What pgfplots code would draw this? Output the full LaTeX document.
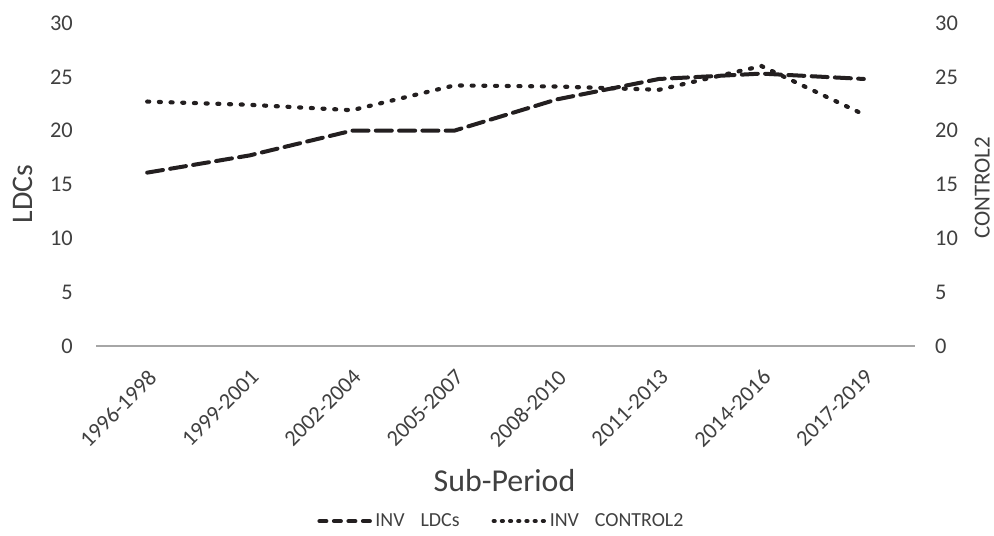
\documentclass[border=0pt]{standalone}
\usepackage{pgfplots}
\pgfplotsset{compat=1.18}
\usepackage{fontspec}
\setmainfont{Carlito}
\definecolor{txt}{HTML}{404040}
\definecolor{ln}{HTML}{231F20}
\definecolor{axc}{HTML}{A6A6A6}
\pgfplotsset{
  ldcleg/.style={legend image code/.code={\draw[##1, dash pattern=on 7bp off 7.5bp] (2bp,0bp) -- (54bp,0bp);}},
  ctlleg/.style={legend image code/.code={\draw[##1, dash pattern=on 1bp off 7.2bp] (2bp,0bp) -- (54bp,0bp);}},
}
\pgfplotstableread{
x ldc ctl
0 16.1 22.7
1 17.7 22.4
2 20.0 21.9
3 20.0 24.2
4 22.9 24.1
5 24.8 23.8
6 25.3 26.0
7 24.8 21.5
}\mydata
\begin{document}
\begin{tikzpicture}[x=1bp,y=1bp]
\useasboundingbox (0,0) rectangle (994,536);
\begin{axis}[
  at={(96bp,190bp)}, anchor=south west,
  scale only axis, width=819bp, height=323bp,
  xmin=-0.5, xmax=7.5, ymin=0, ymax=30,
  clip=false,
  axis x line*=bottom, axis y line*=left,
  y axis line style={draw=none},
  x axis line style={-, draw=axc, line width=1.3bp},
  major tick length=0pt,
  xtick={0,...,7},
  xticklabels={1996-1998,1999-2001,2002-2004,2005-2007,2008-2010,2011-2013,2014-2016,2017-2019},
  xticklabel style={font=\fontsize{22.5}{22.5}\selectfont, text=txt, inner sep=0pt, xshift=0bp, yshift=-22bp, rotate=45, anchor=north east},
  ytick={0,5,...,30},
  yticklabel style={font=\fontsize{22.5}{22.5}\selectfont, text=txt, anchor=east, inner sep=0pt, xshift=-23bp},
  /pgf/number format/assume math mode=true,
  xlabel={Sub-Period},
  xlabel style={at={(axis description cs:0.4988,-0.418)}, anchor=center, font=\fontsize{32}{32}\selectfont, text=txt},
  ylabel={LDCs},
  ylabel style={at={(axis description cs:-0.0897,0.4706)}, anchor=center, font=\fontsize{30}{30}\selectfont, text=txt},
  legend columns=2,
  legend style={at={(axis description cs:0.495,-0.542)}, anchor=center, draw=none, fill=none,
    font=\fontsize{20}{20}\selectfont, text=txt,
    /tikz/every even column/.append style={column sep=30bp}},
  legend cell align=left,
]
\addplot[ln, line width=4bp, line cap=round, dash pattern=on 16bp off 7.3bp, ldcleg]
  table[x=x,y=ldc]{\mydata};
\addlegendentry{INV\hspace{0.8em}LDCs}
\addplot[ln, line width=4.2bp, line cap=round, dash pattern=on 2bp off 9.7bp, ctlleg]
  table[x=x,y=ctl]{\mydata};
\addlegendentry{INV\hspace{0.8em}CONTROL2}
\end{axis}
\begin{axis}[
  at={(96bp,190bp)}, anchor=south west,
  scale only axis, width=819bp, height=323bp,
  xmin=-0.5, xmax=7.5, ymin=0, ymax=30,
  hide x axis,
  axis y line*=right,
  y axis line style={draw=none},
  major tick length=0pt,
  ytick={0,5,...,30},
  yticklabel style={font=\fontsize{22.5}{22.5}\selectfont, text=txt, anchor=west, inner sep=0pt, xshift=20bp},
  /pgf/number format/assume math mode=true,
  ylabel={CONTROL2},
  ylabel style={at={(axis description cs:1.082,0.49)}, anchor=center, rotate=0, inner sep=0pt, font=\fontsize{23}{23}\selectfont, text=txt},
]
\end{axis}
\end{tikzpicture}
\end{document}
